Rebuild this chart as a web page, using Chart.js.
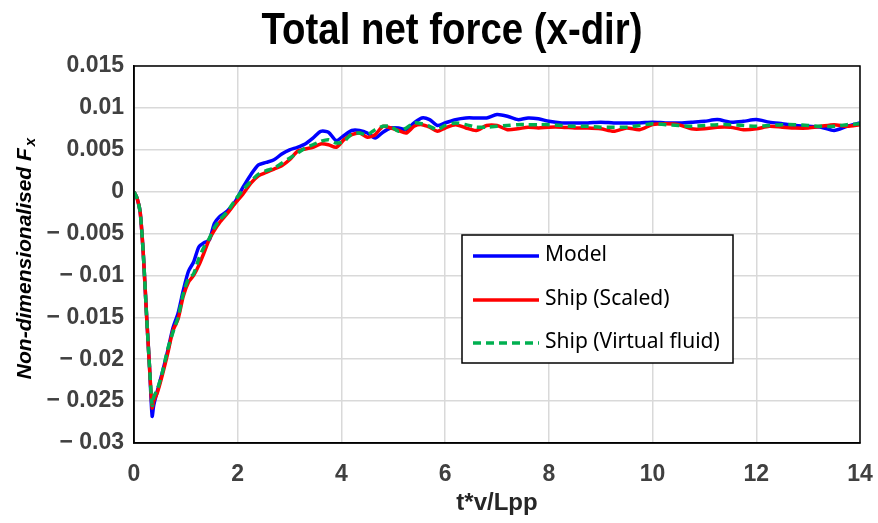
<!DOCTYPE html>
<html>
<head>
<meta charset="utf-8">
<script src="https://cdn.jsdelivr.net/npm/chart.js@4.4.1/dist/chart.umd.min.js"></script>
<style>
  html, body { margin: 0; padding: 0; background: #ffffff; }
  #wrap { width: 878px; height: 523px; }
</style>
</head>
<body>
<div id="wrap"><canvas id="c" width="878" height="523"></canvas></div>
<script>
// ---- Text ----
const chartTitle = 'Total net force (x-dir)';
const xAxisTitle = 't*v/Lpp';
const yAxisTitle = 'Non-dimensionalised F';
const yAxisSub = 'x';
const seriesNames = ['Model', 'Ship (Scaled)', 'Ship (Virtual fluid)'];

// ---- Data: non-dimensional time t*v/Lpp and Fx for each case ----
const tStar = [
  0, 0.06, 0.12, 0.18, 0.24, 0.30, 0.35, 0.38, 0.45, 0.55,
  0.65, 0.75, 0.85, 0.95, 1.05, 1.15, 1.25, 1.35, 1.45, 1.55,
  1.65, 1.8, 1.95, 2.1, 2.25, 2.4, 2.55, 2.7, 2.85, 3.0,
  3.15, 3.3, 3.45, 3.6, 3.75, 3.9, 4.05, 4.2, 4.35, 4.5,
  4.65, 4.8, 4.95, 5.1, 5.25, 5.4, 5.55, 5.7, 5.85, 6.0,
  6.2, 6.4, 6.6, 6.8, 7.0, 7.2, 7.4, 7.6, 7.8, 8.0,
  8.25, 8.5, 8.75, 9.0, 9.25, 9.5, 9.75, 10.0, 10.25, 10.5,
  10.75, 11.0, 11.25, 11.5, 11.75, 12.0, 12.25, 12.5, 12.75, 13.0,
  13.25, 13.5, 13.75, 14.0
];

const model = [
  0, -0.0008, -0.0025, -0.0075, -0.0145, -0.0210, -0.0268, -0.0255, -0.0238, -0.0215,
  -0.0190, -0.0163, -0.0145, -0.0118, -0.0095, -0.0084, -0.0066, -0.0061, -0.0058, -0.0038,
  -0.0030, -0.0023, -0.0012, 0.0005, 0.0020, 0.0032, 0.0035, 0.0038, 0.0045, 0.0050,
  0.0053, 0.0057, 0.0064, 0.0072, 0.0071, 0.0061, 0.0067, 0.0073, 0.0073, 0.0070,
  0.0064, 0.0071, 0.0076, 0.0076, 0.0074, 0.0082, 0.0088, 0.0086, 0.0079, 0.0082,
  0.0086, 0.0088, 0.0088, 0.0088, 0.0092, 0.0090, 0.0086, 0.0088, 0.0087, 0.0084,
  0.0082, 0.0082, 0.0082, 0.0083, 0.0082, 0.0082, 0.0082, 0.0083, 0.0082, 0.0082,
  0.0083, 0.0084, 0.0086, 0.0083, 0.0084, 0.0086, 0.0083, 0.0081, 0.0079, 0.0078,
  0.0077, 0.0073, 0.0078, 0.0082
];

const shipScaled = [
  0, -0.0008, -0.0025, -0.0075, -0.0145, -0.0210, -0.0258, -0.0250, -0.0240, -0.0218,
  -0.0193, -0.0166, -0.0152, -0.0125, -0.0108, -0.0100, -0.0088, -0.0073, -0.0057, -0.0046,
  -0.0037, -0.0026, -0.0014, -0.0003, 0.0010, 0.0019, 0.0023, 0.0027, 0.0031, 0.0038,
  0.0048, 0.0051, 0.0053, 0.0057, 0.0056, 0.0053, 0.0062, 0.0068, 0.0070, 0.0065,
  0.0068, 0.0078, 0.0076, 0.0073, 0.0070, 0.0078, 0.0080, 0.0077, 0.0072, 0.0076,
  0.0080, 0.0076, 0.0073, 0.0079, 0.0079, 0.0074, 0.0075, 0.0077, 0.0076, 0.0077,
  0.0077, 0.0076, 0.0076, 0.0075, 0.0072, 0.0076, 0.0074, 0.0080, 0.0081, 0.0080,
  0.0075, 0.0075, 0.0077, 0.0077, 0.0074, 0.0075, 0.0078, 0.0077, 0.0076, 0.0076,
  0.0078, 0.0080, 0.0078, 0.0080
];

const shipVirtual = [
  0, -0.0008, -0.0025, -0.0075, -0.0145, -0.0210, -0.0255, -0.0245, -0.0236, -0.0215,
  -0.0188, -0.0168, -0.0150, -0.0122, -0.0104, -0.0098, -0.0080, -0.0066, -0.0056, -0.0043,
  -0.0034, -0.0024, -0.0010, 0.0002, 0.0012, 0.0021, 0.0025, 0.0028, 0.0034, 0.0040,
  0.0046, 0.0052, 0.0056, 0.0060, 0.0062, 0.0058, 0.0060, 0.0069, 0.0070, 0.0068,
  0.0074, 0.0078, 0.0078, 0.0072, 0.0076, 0.0082, 0.0081, 0.0078, 0.0074, 0.0079,
  0.0082, 0.0080, 0.0077, 0.0077, 0.0078, 0.0079, 0.0080, 0.0080, 0.0080, 0.0080,
  0.0079, 0.0078, 0.0078, 0.0077, 0.0077, 0.0077, 0.0079, 0.0081, 0.0080, 0.0079,
  0.0078, 0.0079, 0.0080, 0.0080, 0.0079, 0.0078, 0.0079, 0.0080, 0.0080, 0.0079,
  0.0078, 0.0078, 0.0080, 0.0081
];

// ---- Styling ----
const COLORS = ['#0000ff', '#ff0000', '#00b050'];
const DASHES = [[], [], [8, 5]];
const TICK_FONT = { family: '"Liberation Sans", Arial, sans-serif', size: 23, weight: 'bold' };
const TICK_COLOR = '#404040';
const GRID_COLOR = '#d9d9d9';

const toPoints = (xs, ys) => xs.map((x, i) => ({ x: x, y: ys[i] }));
const seriesValues = [model, shipScaled, shipVirtual];

function formatTick(v) {
  const r = Math.round(v * 1000) / 1000;
  if (r === 0) return '0';
  return r < 0 ? '\u2212 ' + String(Math.abs(r)) : String(r);
}

// Title, axis titles, plot frame and boxed legend drawn on top of the chart
const decorations = {
  id: 'decorations',
  afterDraw(chart) {
    const ctx = chart.ctx;
    const a = chart.chartArea;
    ctx.save();

    // frame around the plot area
    ctx.strokeStyle = '#000000';
    ctx.lineWidth = 1.5;
    ctx.strokeRect(a.left, a.top, a.right - a.left, a.bottom - a.top);

    // chart title, narrowed bold face
    ctx.save();
    ctx.fillStyle = '#000000';
    ctx.font = 'bold 44px "Liberation Sans", Arial, sans-serif';
    ctx.textAlign = 'center';
    ctx.textBaseline = 'alphabetic';
    const tw = ctx.measureText(chartTitle).width;
    const sx = 381 / tw;
    ctx.translate(452, 44);
    ctx.scale(sx, 1);
    ctx.fillText(chartTitle, 0, 0);
    ctx.restore();

    // x-axis title
    ctx.font = 'bold 24px "Liberation Sans", Arial, sans-serif';
    ctx.fillStyle = '#262626';
    ctx.textAlign = 'center';
    ctx.textBaseline = 'middle';
    ctx.fillText(xAxisTitle, (a.left + a.right) / 2, 503);

    // y-axis title with subscript
    ctx.save();
    ctx.translate(25, (a.top + a.bottom) / 2 + 4);
    ctx.rotate(-Math.PI / 2);
    const mainFont = 'italic bold 21px "Liberation Sans", Arial, sans-serif';
    const subFont = 'italic bold 15px "Liberation Sans", Arial, sans-serif';
    ctx.font = mainFont;
    const w1 = ctx.measureText(yAxisTitle).width;
    ctx.font = subFont;
    const w2 = ctx.measureText(yAxisSub).width;
    const x0 = -(w1 + w2 + 2) / 2;
    ctx.textAlign = 'left';
    ctx.textBaseline = 'middle';
    ctx.fillStyle = '#000000';
    ctx.font = mainFont;
    ctx.fillText(yAxisTitle, x0, 0);
    ctx.font = subFont;
    ctx.fillText(yAxisSub, x0 + w1 + 2, 6);
    ctx.restore();

    // legend box
    const lx = 462, ly = 235, lw = 271, lh = 128;
    ctx.fillStyle = '#ffffff';
    ctx.fillRect(lx, ly, lw, lh);
    ctx.strokeStyle = '#000000';
    ctx.lineWidth = 1.5;
    ctx.strokeRect(lx, ly, lw, lh);
    const rowY = [256, 300, 343];
    chart.data.datasets.forEach((ds, i) => {
      ctx.beginPath();
      ctx.strokeStyle = ds.borderColor;
      ctx.lineWidth = 3.5;
      ctx.setLineDash(ds.borderDash || []);
      ctx.moveTo(473, rowY[i]);
      ctx.lineTo(539, rowY[i]);
      ctx.stroke();
      ctx.setLineDash([]);
      ctx.fillStyle = '#000000';
      ctx.font = '21px "Noto Sans", "Open Sans", sans-serif';
      ctx.textAlign = 'left';
      ctx.textBaseline = 'middle';
      ctx.fillText(ds.label, 545, rowY[i] - 1);
    });

    ctx.restore();
  }
};

new Chart(document.getElementById('c'), {
  type: 'line',
  data: {
    datasets: seriesNames.map((name, i) => ({
      label: name,
      data: toPoints(tStar, seriesValues[i]),
      borderColor: COLORS[i],
      backgroundColor: COLORS[i],
      borderWidth: 3.5,
      borderDash: DASHES[i],
      pointRadius: 0,
      tension: 0.25,
      fill: false,
      order: 3 - i
    }))
  },
  options: {
    responsive: false,
    animation: false,
    devicePixelRatio: 1,
    layout: { padding: { top: 66, right: 18, bottom: 0, left: 0 } },
    plugins: {
      legend: { display: false },
      title: { display: false },
      tooltip: { enabled: false }
    },
    scales: {
      x: {
        type: 'linear',
        min: 0,
        max: 14,
        ticks: {
          stepSize: 2,
          font: TICK_FONT,
          color: TICK_COLOR,
          padding: 18,
          maxRotation: 0,
          callback: (v) => String(v)
        },
        grid: { color: GRID_COLOR, lineWidth: 1.5, drawTicks: false },
        border: { display: true, color: '#000000', width: 1.5 },
        afterFit: (s) => {
          s.height = 80;
          // end labels only need half their width beside the plot
          s.paddingLeft = 8;
          s.paddingRight = 14;
        }
      },
      y: {
        min: -0.03,
        max: 0.015,
        ticks: {
          stepSize: 0.005,
          font: TICK_FONT,
          color: TICK_COLOR,
          padding: 10,
          callback: (v) => formatTick(v)
        },
        grid: { color: GRID_COLOR, lineWidth: 1.5, drawTicks: false },
        border: { display: true, color: '#000000', width: 1.5 },
        afterFit: (s) => { s.width = 134; }
      }
    }
  },
  plugins: [decorations]
});
</script>
</body>
</html>
